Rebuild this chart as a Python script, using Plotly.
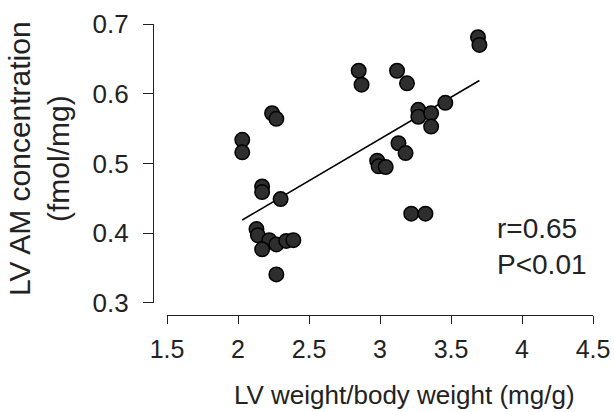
import plotly.graph_objects as go

# Data
lv_ratio = [3.69, 3.70, 2.85, 2.87, 3.12, 3.19, 2.24, 2.27, 2.03, 2.03,
            3.46, 3.27, 3.27, 3.36, 3.36, 3.13, 3.18, 2.98, 2.99, 3.04,
            2.17, 2.17, 2.30, 3.22, 3.32, 2.13, 2.14, 2.22, 2.27, 2.17,
            2.34, 2.39, 2.27]
am_conc = [0.681, 0.670, 0.633, 0.613, 0.633, 0.615, 0.572, 0.564, 0.534, 0.516,
           0.587, 0.577, 0.567, 0.572, 0.553, 0.529, 0.515, 0.504, 0.496, 0.495,
           0.467, 0.459, 0.449, 0.428, 0.428, 0.406, 0.397, 0.390, 0.384, 0.377,
           0.389, 0.390, 0.341]
fit_x = [2.03, 3.70]
fit_y = [0.419, 0.619]
x_ticks = [1.5, 2, 2.5, 3, 3.5, 4, 4.5]
x_tick_labels = ["1.5", "2", "2.5", "3", "3.5", "4", "4.5"]
y_ticks = [0.3, 0.4, 0.5, 0.6, 0.7]
y_tick_labels = ["0.3", "0.4", "0.5", "0.6", "0.7"]
x_title = "LV weight/body weight (mg/g)"
y_title = "LV AM concentration<br>(fmol/mg)"
stats_text = "r=0.65<br>P<0.01"

FONT = "Liberation Sans, Arial, sans-serif"

fig = go.Figure()
fig.add_trace(go.Scatter(x=fit_x, y=fit_y, mode="lines",
                         line=dict(color="black", width=1.5),
                         showlegend=False, hoverinfo="skip"))
fig.add_trace(go.Scatter(x=lv_ratio, y=am_conc, mode="markers",
                         marker=dict(size=14.5, color="#2e2e2e",
                                     line=dict(color="#000000", width=1.5)),
                         showlegend=False, cliponaxis=False))

fig.add_annotation(x=0.766, y=0.2655, xref="paper", yref="paper",
                   text=stats_text, showarrow=False, align="left",
                   xanchor="left", yanchor="middle",
                   font=dict(family=FONT, size=28, color="#222"))

fig.add_annotation(x=0.571, y=-0.196, xref="paper", yref="paper",
                   text=x_title, showarrow=False,
                   xanchor="center", yanchor="middle",
                   font=dict(family=FONT, size=26, color="#222"))

fig.add_annotation(x=-0.218, y=0.54, xref="paper", yref="paper",
                   text=y_title, showarrow=False, textangle=-90,
                   xanchor="center", yanchor="middle", align="center",
                   font=dict(family=FONT, size=30, color="#222"))

fig.update_layout(
    width=614, height=412,
    margin=dict(l=140, r=10, t=10, b=80, autoexpand=False),
    paper_bgcolor="white", plot_bgcolor="white",
    font=dict(family=FONT, color="#222"),
    xaxis=dict(range=[1.5, 4.5], domain=[0.0582, 0.9763],
               anchor="free", position=0.0528, automargin=False,
               tickvals=x_ticks, ticktext=x_tick_labels,
               ticks="outside", ticklen=8, tickwidth=1.2, tickcolor="#222",
               ticklabelstandoff=4,
               showline=True, linecolor="#222", linewidth=1.2,
               showgrid=False, zeroline=False,
               tickfont=dict(size=25, family=FONT, color="#222")),
    yaxis=dict(range=[0.3, 0.7], domain=[0.0901, 0.9565],
               anchor="free", position=0.028, automargin=False,
               tickvals=y_ticks, ticktext=y_tick_labels,
               ticks="outside", ticklen=10, tickwidth=1.2, tickcolor="#222",
               ticklabelstandoff=9,
               showline=True, linecolor="#222", linewidth=1.2,
               showgrid=False, zeroline=False,
               tickfont=dict(size=26, family=FONT, color="#222")),
)

fig.write_html("out.html",
               config={"displayModeBar": False},
               post_script="document.body.style.margin='0';"
                           "document.body.style.overflow='hidden';")
